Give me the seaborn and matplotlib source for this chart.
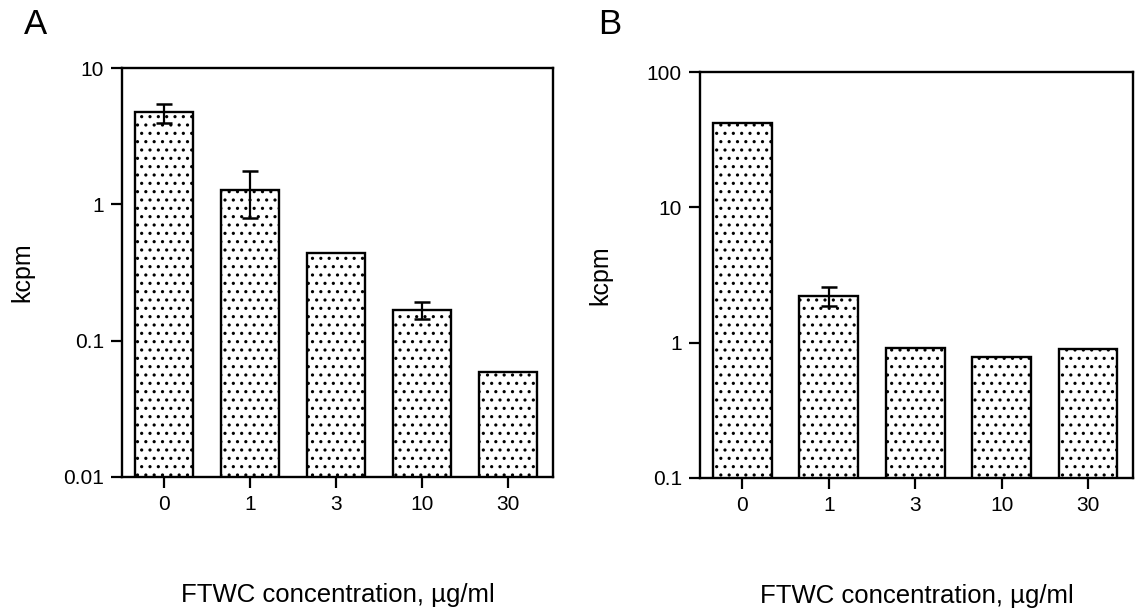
import numpy as np
import pandas as pd
import seaborn as sns
from matplotlib import pyplot as plt
from matplotlib.ticker import FixedLocator, NullLocator

sns.set_style('ticks')
plt.rcParams['font.family'] = ['Liberation Sans', 'DejaVu Sans']
plt.rcParams['hatch.linewidth'] = 1.1
plt.rcParams['hatch.color'] = 'black'
plt.rcParams['text.color'] = 'black'
plt.rcParams['axes.labelcolor'] = 'black'

# FTWC concentrations (ug/ml) on the x axis
conc = ['0', '1', '3', '10', '30']

# panel A: kcpm values and error
kcpm_a = [4.73, 1.27, 0.44, 0.167, 0.059]
err_a = [0.75, 0.48, 0.0, 0.024, 0.0]

# panel B
kcpm_b = [41.8, 2.22, 0.92, 0.78, 0.90]
err_b = [0.0, 0.36, 0.0, 0.0, 0.0]

yticks_a = [0.01, 0.1, 1, 10]
yticklabels_a = ['0.01', '0.1', '1', '10']
yticks_b = [0.1, 1, 10, 100]
yticklabels_b = ['0.1', '1', '10', '100']

fig = plt.figure(figsize=(11.35, 6.15), dpi=100)
ax_a = fig.add_axes([0.1075, 0.2244, 0.3797, 0.665])
ax_b = fig.add_axes([0.6167, 0.2228, 0.3815, 0.660])


def draw_panel(ax, vals, errs, ticks, ticklabels, letter, letter_x):
    df = pd.DataFrame({'conc': conc, 'kcpm': vals})
    sns.barplot(data=df, x='conc', y='kcpm', order=conc, ax=ax,
                color='white', saturation=1, edgecolor='black',
                linewidth=1.7, width=0.68, hatch='..', errorbar=None)
    ax.set_yscale('log')
    ax.set_ylim(ticks[0], ticks[-1])
    ax.set_xlim(-0.49, 4.52)

    pos = np.arange(len(conc))
    errs = np.asarray(errs)
    keep = errs > 0
    ax.errorbar(pos[keep], np.asarray(vals)[keep], yerr=errs[keep], fmt='none',
                ecolor='black', elinewidth=1.6, capsize=5.5, capthick=1.8)

    ax.yaxis.set_major_locator(FixedLocator(ticks))
    ax.yaxis.set_minor_locator(NullLocator())
    ax.set_yticklabels(ticklabels)
    for side in ['top', 'right', 'left', 'bottom']:
        ax.spines[side].set_visible(True)
        ax.spines[side].set_linewidth(1.7)
        ax.spines[side].set_color('black')
    ax.tick_params(axis='both', direction='out', length=8, width=1.6,
                   labelsize=15, pad=5, colors='black')
    ax.set_xlabel('FTWC concentration, \u00b5g/ml', fontsize=18.5)
    ax.set_ylabel('kcpm', fontsize=18)
    ax.xaxis.set_label_coords(0.5, -0.26)
    ax.yaxis.set_label_coords(-0.203, 0.5)
    fig.text(letter_x, 1 - 8 / 615, letter, fontsize=25, va='top', ha='left')


draw_panel(ax_a, kcpm_a, err_a, yticks_a, yticklabels_a, 'A', 24 / 1135)
draw_panel(ax_b, kcpm_b, err_b, yticks_b, yticklabels_b, 'B', 598 / 1135)

plt.savefig('out.png', dpi=100)
